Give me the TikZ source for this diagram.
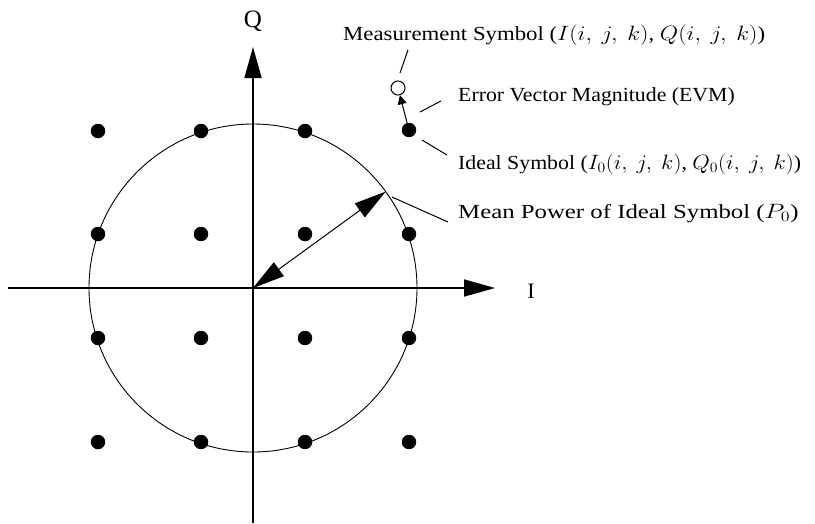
\documentclass[tikz,border=0pt]{standalone}
\usepackage{fontspec}
\setmainfont{Liberation Serif}
\usetikzlibrary{arrows.meta,calc}
\newcommand{\wide}[2]{\scalebox{#1}[1]{#2}}
\begin{document}
\begin{tikzpicture}[x=1pt,y=-1pt,
  axis/.style={line width=1.6pt},
  bigtip/.style={-{Triangle[length=31pt,width=17pt]}},
  dot/.style={circle,fill=black,inner sep=0pt,minimum size=14.5pt},
  opendot/.style={circle,draw=black,line width=1pt,fill=white,inner sep=0pt,minimum size=14pt},
  lbl/.style={font=\fontsize{20}{24}\selectfont,inner sep=0pt},
  leader/.style={line width=1pt}]
\useasboundingbox (0,0) rectangle (815,523);
% axes
\coordinate (O) at (253,288);
\coordinate (xl) at (8,288);
\coordinate (xr) at (495,288);
\coordinate (yb) at (253,523);
\coordinate (yt) at (253,47);
\draw[axis] (xl) -- (O);
\draw[axis,bigtip] (O) -- (xr);
\draw[axis] (yb) -- (O);
\draw[axis,bigtip] (O) -- (yt);
\node[lbl,font=\fontsize{25}{28}\selectfont] (Q) at (253,21) {Q};
\node[lbl,font=\fontsize{22}{26}\selectfont] (I) at (531,291) {I};
% circle
\draw[line width=0.9pt] (O) circle[radius=164];
% constellation
\foreach \i/\x in {1/98,2/201,3/305,4/409}{
  \foreach \j/\y in {1/131,2/234,3/338,4/442}{
    \ifnum\i\j=41 \else
      \node[dot] (p\i\j) at (\x,\y) {};
    \fi
  }
}
% ideal and measurement
\node[dot] (ideal) at (409,130) {};
\node[opendot] (meas) at (398,88) {};
\draw[line width=1pt,-{Triangle[length=9pt,width=9pt]}] (ideal) -- (meas);
% power arrow
\coordinate (rim) at ($(O)+(-36:164)$);
\draw[line width=1pt,{Triangle[length=32pt,width=17pt]}-{Triangle[length=32pt,width=17pt]}] (O) -- (rim);
% labels
\node[lbl,anchor=base west] (tm) at (343,40) {\wide{1.14}{Measurement Symbol ($I(i,\ j,\ k)$, $Q(i,\ j,\ k)$)}};
\node[lbl,anchor=base west] (te) at (458,101) {\wide{1.09}{Error Vector Magnitude (EVM)}};
\node[lbl,anchor=base west] (ti) at (458,169) {\wide{1.09}{Ideal Symbol ($I_0(i,\ j,\ k)$, $Q_0(i,\ j,\ k)$)}};
\node[lbl,anchor=base west] (tp) at (458,218) {\wide{1.24}{Mean Power of Ideal Symbol ($P_0$)}};
% leaders
\coordinate (lm1) at (408,50); \coordinate (lm2) at (400,73);
\coordinate (le1) at (420,112); \coordinate (le2) at (441,101);
\coordinate (li1) at (422,140); \coordinate (li2) at (447,155);
\coordinate (lp1) at (392,197); \coordinate (lp2) at (448,222);
\draw[leader] (lm1) -- (lm2);
\draw[leader] (le1) -- (le2);
\draw[leader] (li1) -- (li2);
\draw[leader] (lp1) -- (lp2);
\end{tikzpicture}
\end{document}
